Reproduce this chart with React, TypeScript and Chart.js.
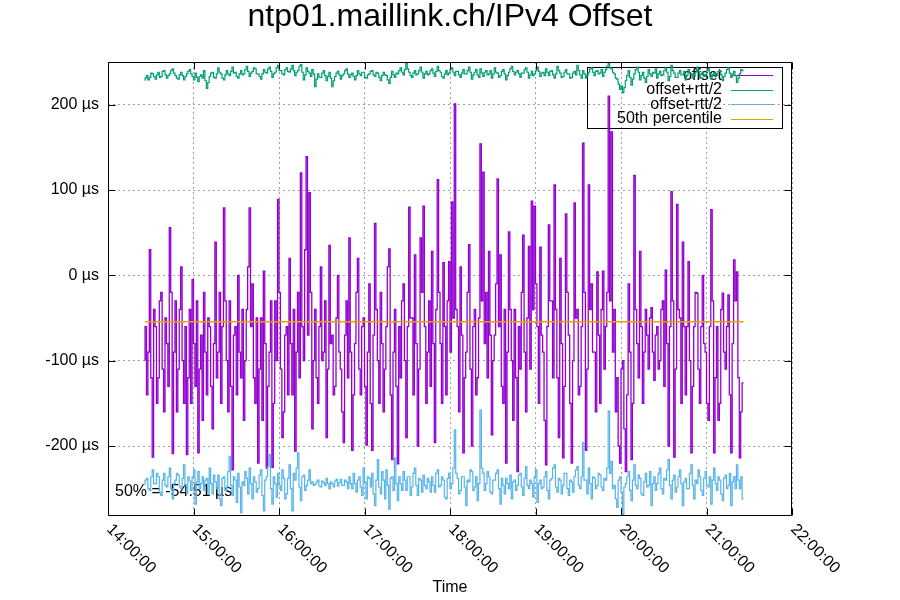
import React, { useEffect, useRef } from "react";
import { Chart, registerables } from "chart.js";

Chart.register(...registerables);

const FONT = '"Liberation Sans", Arial, Helvetica, sans-serif';
const TITLE = "ntp01.maillink.ch/IPv4 Offset";
const X_TITLE = "Time";
const START_MIN = 26; // minutes after 14:00 of first sample
const STEP_MIN = 1;
const X_MIN = 0;
const X_MAX = 480;
const HOUR_TICKS = [0, 60, 120, 180, 240, 300, 360, 420, 480];
const HOUR_LABELS = ["14:00:00", "15:00:00", "16:00:00", "17:00:00", "18:00:00", "19:00:00", "20:00:00", "21:00:00", "22:00:00"];
const Y_MIN = -282;
const Y_MAX = 250;
const Y_TICKS = [-200, -100, 0, 100, 200];
const PERCENTILE_50 = -54.51;

const offset = [
  -100, -60, -140, -90, 30, -120, -213, -40, -60, -150, -120, -30, -20, -110, -160, -50, -80, -130, 56, -20,
  -209, -90, -30, -160, -110, -40, 10, -100, -150, -60, -210, -120, -40, -150, -5, -80, -130, -30, -208, -110,
  -70, -170, -20, -90, -140, -50, -60, -130, -180, -80, 39, -120, -90, -20, -150, -60, 79, -30, -100, -160,
  -30, -130, -228, -70, -60, -140, 0, -90, -120, -40, -170, -100, -40, 10, 79, -60, -10, -120, -150, -50,
  -220, -110, -50, -170, 5, -80, -226, -130, -90, -30, -225, -150, -30, -100, 89, -20, -110, -190, -160, -70,
  -60, -140, 20, -80, -140, -40, -206, -90, -20, -120, 120, -60, -100, 30, 139, -70, 97, -20, -180, -100,
  -40, -120, -150, -60, 10, -100, -90, -30, -190, -110, 35, -80, -70, -140, -130, -50, 0, -90, -110, -160,
  -196, -70, -30, -120, 44, -90, -205, -140, -80, -20, 20, -110, -140, -60, -50, -130, -199, -90, -10, -150,
  -205, -70, 61, -40, -100, -150, -20, -80, -160, -110, -60, 10, 31, -140, -216, -90, -40, -130, -221, -60,
  -120, -30, -10, -100, -190, -60, 80, -50, -50, -140, 24, -80, -200, -110, 44, -20, 81, -60, -150, -90,
  -30, -130, 28, -80, -196, -40, 112, -20, -80, -150, 15, -60, -140, -30, 16, -90, 86, -50, 201, -40,
  -60, -160, 10, -70, -208, -120, -90, -20, 36, -110, -200, -60, -40, -140, -120, -50, 154, -30, 121, -80,
  -20, -120, 28, -70, -187, -100, -70, -10, 113, -60, 24, -130, -150, -40, -220, -90, 51, -40, -100, -170,
  -40, -120, -230, -60, -110, -20, 47, -90, -160, -50, 34, -110, 87, -40, 81, -10, -60, -150, 33, -70,
  -90, -170, -222, -60, 59, -30, -30, -120, 106, -40, -120, -190, 20, -80, -214, -130, 72, -20, -70, -150,
  -220, -100, 85, -50, -40, -140, -130, -60, 155, -20, -205, -110, 106, -40, -10, -90, -90, -160, 4, -70,
  -150, -40, 5, -110, -60, -20, 210, -30, 168, -90, -40, -160, -120, -200, -220, -110, -100, -180, -230, -140,
  -10, -90, -216, -150, 117, -40, -80, -120, 28, -60, -150, -90, -40, -70, -110, -50, -38, -90, -123, -70,
  -60, -110, -100, -40, -30, -130, 6, -80, -200, -60, 98, -30, -213, -110, 83, -40, -50, -150, 39, -60,
  -140, -60, 16, -100, -208, -130, -60, -20, -21, -110, -150, -60, 0, -80, -90, -150, -170, -60, 77, -30,
  -208, -120, -60, -170, -150, -40, -21, -90, -110, -60, -23, -140, -208, -80, 18, -30, 4, -120, -214, -160, -126,
];

const offsetPlusHalfRtt = [
  228, 231, 234, 229, 232, 237, 236, 233, 230, 235, 238, 232, 233, 239, 240, 235, 231, 234, 236, 240,
  242, 237, 234, 231, 230, 235, 238, 234, 229, 233, 236, 239, 241, 236, 233, 229, 237, 232, 227, 233,
  235, 231, 240, 228, 219, 226, 233, 237, 238, 232, 231, 236, 243, 238, 236, 231, 229, 235, 240, 236,
  234, 239, 244, 237, 238, 233, 231, 236, 240, 235, 236, 241, 245, 239, 233, 237, 239, 243, 242, 236,
  236, 233, 230, 236, 241, 238, 237, 242, 244, 239, 232, 236, 238, 243, 246, 240, 240, 236, 235, 241,
  243, 239, 238, 242, 246, 240, 234, 238, 240, 245, 247, 238, 229, 235, 243, 239, 237, 233, 241, 236,
  221, 230, 236, 232, 232, 237, 240, 234, 228, 233, 238, 231, 221, 228, 233, 237, 239, 235, 230, 234,
  236, 240, 242, 236, 232, 235, 237, 233, 229, 234, 240, 236, 234, 238, 238, 232, 231, 235, 236, 239,
  240, 235, 233, 238, 237, 232, 228, 234, 238, 235, 234, 229, 225, 232, 239, 235, 232, 237, 236, 240,
  243, 238, 235, 241, 248, 242, 238, 234, 232, 237, 240, 235, 236, 240, 244, 238, 231, 236, 239, 235,
  236, 240, 242, 237, 233, 239, 245, 240, 238, 233, 231, 236, 240, 235, 237, 241, 243, 238, 234, 239,
  239, 235, 232, 237, 241, 236, 236, 240, 244, 238, 230, 235, 238, 241, 235, 232, 242, 237, 233, 238,
  240, 235, 236, 240, 231, 236, 243, 238, 237, 232, 234, 239, 241, 236, 229, 234, 238, 242, 245, 239,
  235, 238, 240, 236, 232, 237, 237, 241, 243, 238, 231, 235, 239, 234, 236, 240, 244, 239, 233, 237,
  238, 234, 242, 238, 234, 239, 240, 235, 231, 236, 245, 240, 237, 232, 233, 238, 241, 236, 236, 231,
  232, 237, 239, 235, 246, 240, 235, 231, 240, 236, 231, 235, 238, 242, 243, 238, 234, 239, 240, 236,
  237, 241, 233, 238, 241, 245, 248, 243, 242, 238, 236, 231, 230, 224, 218, 222, 214, 220, 228, 234,
  240, 232, 223, 230, 236, 241, 244, 238, 229, 234, 238, 231, 226, 233, 241, 236, 233, 238, 237, 242,
  231, 236, 239, 234, 235, 240, 243, 238, 228, 233, 246, 240, 237, 232, 232, 237, 240, 235, 235, 239,
  229, 234, 241, 237, 236, 231, 233, 238, 244, 239, 231, 236, 238, 233, 235, 240, 242, 236, 230, 235,
  238, 233, 234, 239, 240, 235, 228, 233, 237, 241, 243, 237, 232, 236, 239, 234, 226, 231, 236, 241, 240,
];

const offsetMinusHalfRtt = [
  -246, -240, -238, -250, -252, -236, -228, -244, -244, -232, -236, -254, -258, -240, -232, -246, -248, -236, -226, -250,
  -262, -244, -240, -232, -234, -248, -250, -238, -222, -246, -255, -236, -241, -252, -236, -228, -268, -242, -230, -250,
  -244, -236, -252, -240, -238, -256, -226, -244, -256, -234, -242, -250, -234, -262, -270, -238, -236, -252, -248, -230,
  -212, -246, -258, -236, -240, -266, -232, -248, -278, -242, -246, -230, -238, -256, -226, -244, -262, -236, -242, -254,
  -250, -234, -228, -258, -276, -240, -236, -224, -210, -250, -268, -236, -244, -260, -232, -246, -252, -228, -238, -262,
  -256, -238, -222, -250, -276, -232, -240, -226, -208, -248, -264, -236, -234, -252, -246, -240, -228, -244, -242, -246,
  -245, -242, -240, -247, -248, -241, -243, -246, -238, -244, -250, -242, -244, -248, -241, -239, -247, -243, -239, -246,
  -246, -240, -242, -250, -236, -244, -250, -232, -244, -254, -240, -236, -248, -258, -226, -242, -262, -236, -238, -248,
  -232, -256, -270, -240, -216, -248, -256, -230, -240, -262, -228, -246, -274, -238, -236, -252, -214, -244, -264, -236,
  -244, -252, -230, -240, -252, -236, -236, -258, -248, -232, -226, -246, -258, -238, -240, -254, -234, -246, -250, -238,
  -242, -254, -236, -246, -254, -232, -228, -248, -246, -236, -240, -260, -262, -238, -232, -250, -244, -226, -181, -232,
  -238, -256, -252, -236, -236, -248, -270, -240, -242, -228, -230, -252, -248, -236, -264, -244, -158, -226, -232, -252,
  -244, -230, -236, -254, -256, -240, -240, -232, -228, -250, -268, -238, -246, -256, -238, -244, -250, -234, -262, -242,
  -240, -252, -246, -234, -232, -248, -258, -238, -224, -246, -250, -240, -244, -260, -236, -228, -266, -244, -240, -250,
  -248, -236, -230, -252, -262, -240, -238, -226, -222, -248, -254, -238, -240, -256, -246, -232, -232, -250, -258, -240,
  -242, -254, -236, -228, -224, -246, -250, -236, -196, -240, -240, -256, -226, -244, -262, -236, -238, -250, -246, -232,
  -234, -248, -252, -238, -240, -226, -159, -232, -218, -250, -246, -262, -272, -240, -236, -254, -280, -248, -244, -236,
  -230, -252, -264, -240, -222, -246, -250, -234, -238, -256, -258, -242, -232, -248, -246, -230, -270, -244, -236, -252,
  -244, -232, -226, -250, -256, -238, -240, -228, -216, -246, -262, -240, -234, -254, -248, -236, -228, -244, -270, -242,
  -238, -250, -250, -232, -222, -246, -262, -240, -244, -228, -236, -252, -258, -238, -230, -246, -248, -236, -268, -240,
  -226, -244, -252, -236, -240, -256, -264, -238, -234, -250, -246, -232, -270, -242, -236, -250, -222, -240, -250, -236, -262,
];

const sampleTimes = offset.map((_, i) => START_MIN + STEP_MIN * i);

const decorPlugin = {
  id: "gnuplotDecor",
  beforeDatasetsDraw(chart: any) {
    const { ctx, chartArea: a } = chart;
    ctx.save();
    ctx.font = `16px ${FONT}`;
    ctx.fillStyle = "#000";
    ctx.textAlign = "left";
    ctx.textBaseline = "middle";
    ctx.fillText(`50% = ${PERCENTILE_50.toFixed(2)} µs`, a.left + 7, a.bottom - 24);

    // key box
    const boxR = Math.round(a.right) - 9.5;
    const boxL = boxR - 195;
    const boxT = Math.round(a.top) + 5.5;
    ctx.strokeStyle = "#000";
    ctx.lineWidth = 1;
    ctx.setLineDash([]);
    ctx.strokeRect(boxL, boxT, 195, 61);
    ctx.textAlign = "right";
    chart.data.datasets.forEach((ds: any, k: number) => {
      const y = boxT + 8 + k * 14.5;
      ctx.fillStyle = "#000";
      ctx.fillText(ds.label, boxR - 60.5, y);
      ctx.strokeStyle = ds.borderColor;
      ctx.lineWidth = 1.2;
      const ly = Math.round(y - 0.5) + 0.5;
      ctx.beginPath();
      ctx.moveTo(boxR - 51.5, ly);
      ctx.lineTo(boxR - 9.5, ly);
      ctx.stroke();
    });
    ctx.restore();
  },
  afterDraw(chart: any) {
    const { ctx, chartArea: a, scales } = chart;
    const L = Math.round(a.left) + 0.5;
    const R = Math.round(a.right) - 0.5;
    const T = Math.round(a.top) + 0.5;
    const B = Math.round(a.bottom) - 0.5;
    ctx.save();
    ctx.strokeStyle = "#000";
    ctx.lineWidth = 1;
    ctx.setLineDash([]);
    ctx.beginPath();
    ctx.rect(L, T, R - L, B - T);
    Y_TICKS.forEach((v) => {
      const y = Math.round(scales.y.getPixelForValue(v)) + 0.5;
      ctx.moveTo(L, y); ctx.lineTo(L + 7, y);
      ctx.moveTo(R, y); ctx.lineTo(R - 7, y);
    });
    HOUR_TICKS.forEach((v) => {
      const x = Math.round(scales.x.getPixelForValue(v)) + 0.5;
      ctx.moveTo(x, B); ctx.lineTo(x, B - 7);
      ctx.moveTo(x, T); ctx.lineTo(x, T + 7);
    });
    ctx.stroke();

    ctx.font = `16px ${FONT}`;
    ctx.fillStyle = "#000";
    ctx.textAlign = "left";
    ctx.textBaseline = "middle";
    HOUR_TICKS.forEach((v, k) => {
      const x = scales.x.getPixelForValue(v);
      ctx.save();
      ctx.translate(x + 1, a.bottom + 11);
      ctx.rotate(Math.PI / 4);
      ctx.fillText(HOUR_LABELS[k], 0, 0);
      ctx.restore();
    });
    ctx.restore();
  },
};

export default function App() {
  const ref = useRef<HTMLCanvasElement | null>(null);

  useEffect(() => {
    if (!ref.current) return;
    Chart.defaults.font.family = FONT;
    const pts = (arr: number[]) => arr.map((y, i) => ({ x: sampleTimes[i], y }));
    const lineBase = {
      borderWidth: 1.2,
      pointRadius: 0,
      pointHoverRadius: 0,
      fill: false,
      tension: 0,
    };
    const chart = new Chart(ref.current, {
      type: "line",
      data: {
        datasets: [
          { ...lineBase, label: "offset", data: pts(offset), borderColor: "#9400d3", borderWidth: 1.3, stepped: "after", order: 3 },
          { ...lineBase, label: "offset+rtt/2", data: pts(offsetPlusHalfRtt), borderColor: "#009e73", stepped: "after", order: 2 },
          { ...lineBase, label: "offset-rtt/2", data: pts(offsetMinusHalfRtt), borderColor: "#56b4e9", stepped: "after", order: 1 },
          {
            ...lineBase,
            label: "50th percentile",
            data: [
              { x: sampleTimes[0], y: PERCENTILE_50 },
              { x: sampleTimes[sampleTimes.length - 1], y: PERCENTILE_50 },
            ],
            borderColor: "#e69f00",
            borderWidth: 1.5,
            order: 0,
          },
        ],
      },
      options: {
        responsive: false,
        animation: false,
        devicePixelRatio: 1,
        layout: { padding: 0 },
        plugins: {
          legend: { display: false },
          tooltip: { enabled: false },
          title: {
            display: true,
            text: TITLE,
            color: "#000",
            font: { family: FONT, size: 32, weight: "normal", lineHeight: 1.1 },
            padding: { top: 0, bottom: 26.8 },
          },
        },
        scales: {
          x: {
            type: "linear",
            min: X_MIN,
            max: X_MAX,
            afterBuildTicks: (s: any) => {
              s.ticks = HOUR_TICKS.map((value) => ({ value }));
            },
            afterFit: (s: any) => {
              s.height = 84;
            },
            ticks: { display: false },
            grid: { color: "#a0a0a0", drawTicks: false, lineWidth: 1 },
            border: { display: false, dash: [2, 3] },
            title: {
              display: true,
              text: X_TITLE,
              color: "#000",
              font: { family: FONT, size: 16 },
              padding: { top: 0, bottom: 3 },
            },
          },
          y: {
            type: "linear",
            min: Y_MIN,
            max: Y_MAX,
            afterBuildTicks: (s: any) => {
              s.ticks = Y_TICKS.map((value) => ({ value }));
            },
            afterFit: (s: any) => {
              s.width = 108;
            },
            ticks: {
              color: "#000",
              font: { family: FONT, size: 16 },
              padding: 9,
              callback: (v: any) => `${v} µs`,
            },
            grid: { color: "#a0a0a0", drawTicks: false, lineWidth: 1 },
            border: { display: false, dash: [2, 3] },
          },
          yRight: {
            type: "linear",
            position: "right",
            display: true,
            ticks: { display: false },
            grid: { display: false, drawTicks: false },
            border: { display: false },
            afterFit: (s: any) => {
              s.width = 108;
            },
          },
        },
      },
      plugins: [decorPlugin],
    } as any);
    return () => chart.destroy();
  }, []);

  return (
    <div style={{ position: "absolute", left: 0, top: 0, width: 900, height: 600, background: "#fff" }}>
      <canvas ref={ref} width={900} height={600} style={{ display: "block" }} />
    </div>
  );
}
